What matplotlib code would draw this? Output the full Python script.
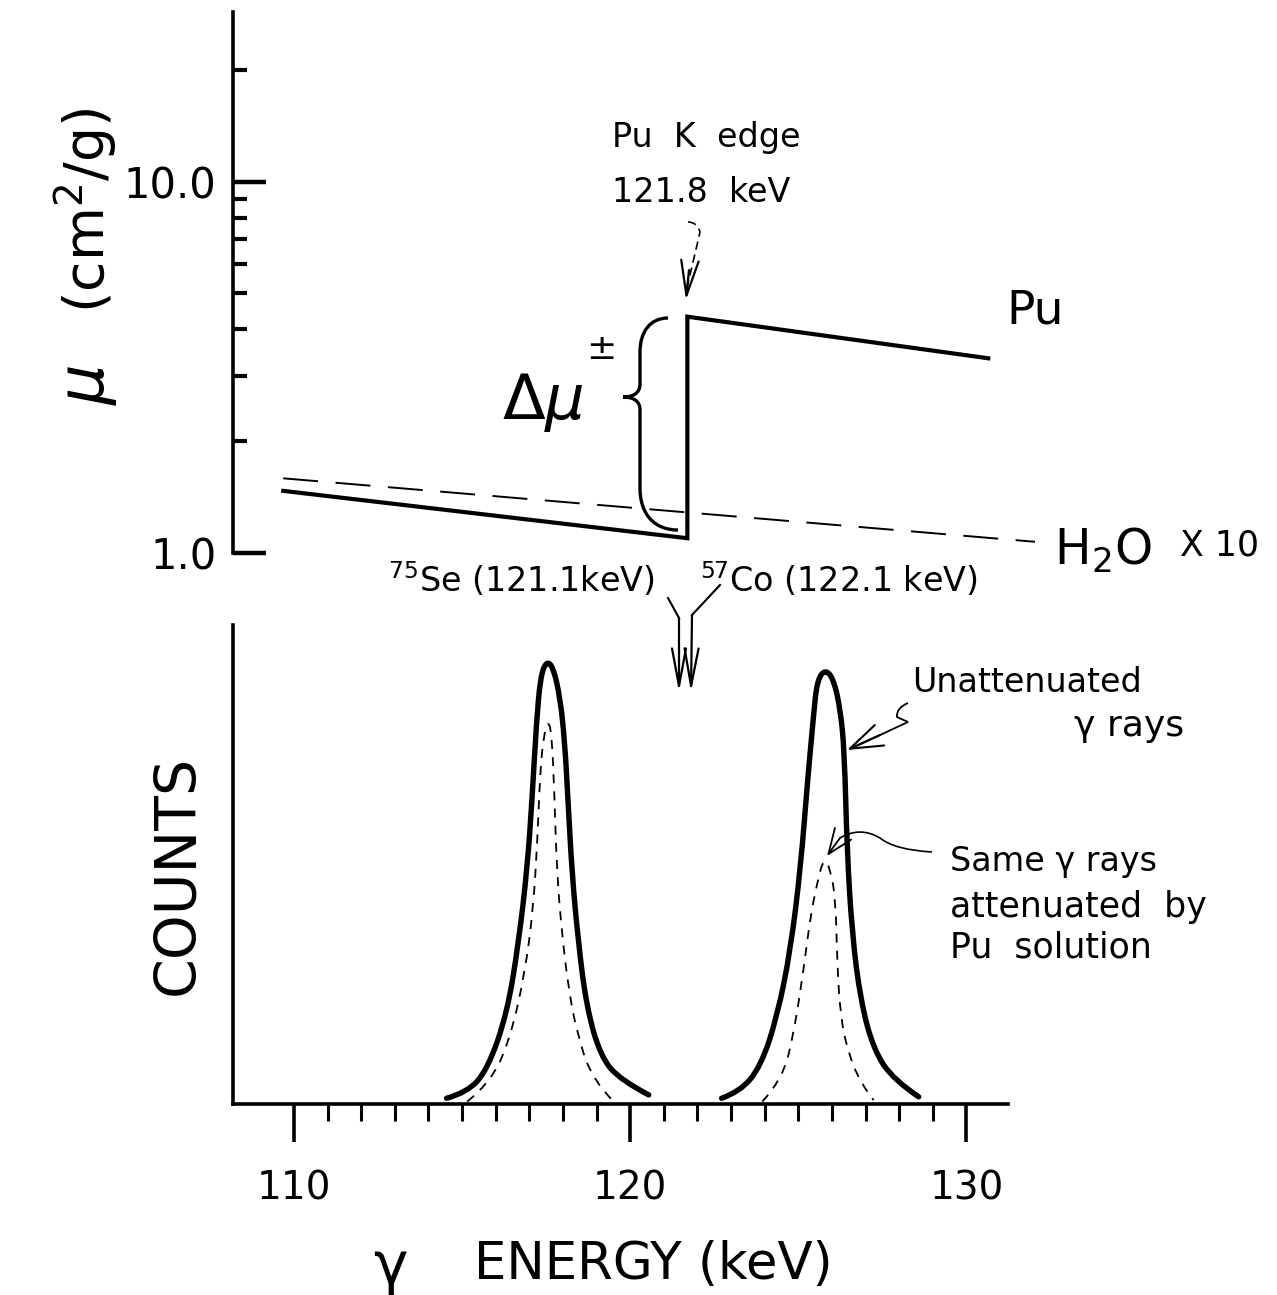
import numpy as np
import matplotlib
matplotlib.use("Agg")
import matplotlib.pyplot as plt
from matplotlib.path import Path
from matplotlib.patches import PathPatch, FancyArrowPatch
from matplotlib.lines import Line2D
from matplotlib.ticker import FixedLocator, NullLocator

# ---------------- data ----------------
# Top panel: mass attenuation coefficient (cm^2/g), log scale
pu_energy = [109.68, 121.7, 121.7, 130.65]
pu_mu = [1.47, 1.096, 4.33, 3.345]
h2o_energy = [109.68, 132.04]
h2o_mu_x10 = [1.589, 1.072]

top_major_ticks = [1.0, 10.0]
top_major_labels = ["1.0", "10.0"]
top_minor_ticks = [2, 3, 4, 5, 6, 7, 8, 9, 20]

# Bottom panel: counts (relative)
se_solid_e = [114.54, 115.15, 115.75, 116.34, 116.69, 116.94, 117.08, 117.21, 117.33,
              117.51, 117.71, 117.91, 118.05, 118.16, 118.27, 118.45, 118.70, 119.12,
              119.71, 120.55]
se_solid_c = [0.012, 0.024, 0.071, 0.189, 0.342, 0.495, 0.635, 0.795, 0.892,
              0.925, 0.912, 0.850, 0.760, 0.621, 0.482, 0.342, 0.203, 0.099,
              0.050, 0.019]
se_dash_e = [115.15, 115.83, 116.42, 116.87, 117.12, 117.24, 117.32, 117.42, 117.57,
             117.67, 117.74, 117.82, 117.97, 118.17, 118.42, 118.87, 119.51]
se_dash_c = [0.005, 0.043, 0.134, 0.273, 0.412, 0.551, 0.690, 0.767, 0.802,
             0.767, 0.656, 0.482, 0.356, 0.238, 0.148, 0.050, 0.005]
co_solid_e = [122.72, 123.27, 123.88, 124.37, 124.77, 125.07, 125.27, 125.45, 125.56,
              125.81, 126.06, 126.25, 126.37, 126.45, 126.60, 126.85, 127.24, 127.84,
              128.58]
co_solid_c = [0.012, 0.026, 0.078, 0.182, 0.322, 0.495, 0.670, 0.809, 0.885,
              0.908, 0.885, 0.823, 0.739, 0.530, 0.356, 0.217, 0.113, 0.050,
              0.015]
co_dash_e = [123.93, 124.52, 124.87, 125.17, 125.36, 125.56, 125.76, 125.96, 126.11,
             126.16, 126.26, 126.46, 126.85, 127.24]
co_dash_c = [0.005, 0.050, 0.148, 0.287, 0.391, 0.461, 0.515, 0.489, 0.426,
             0.287, 0.182, 0.113, 0.043, 0.008]

x_major_ticks = [110, 120, 130]
x_major_labels = ["110", "120", "130"]
x_minor_ticks = [111, 112, 113, 114, 115, 116, 117, 118, 119,
                 121, 122, 123, 124, 125, 126, 127, 128, 129]

# ---------------- layout ----------------
W, H = 1277, 1295
fig = plt.figure(figsize=(W / 100, H / 100), dpi=100)
plt.rcParams['font.family'] = ['DejaVu Sans']


def P(x, y):
    return (x / W, 1 - y / H)


# x calibration: 110 keV at px 294, 33.62 px per keV
def E(px):
    return 110 + (px - 294) / 33.62


def smooth(xs, ys):
    """Quadratic B-spline path through the read points (library Path)."""
    pts = list(zip(xs, ys))
    verts = [pts[0]]
    codes = [Path.MOVETO]
    for i in range(1, len(pts) - 1):
        mid = ((pts[i][0] + pts[i + 1][0]) / 2, (pts[i][1] + pts[i + 1][1]) / 2)
        if i == len(pts) - 2:
            mid = pts[-1]
        verts += [pts[i], mid]
        codes += [Path.CURVE3, Path.CURVE3]
    return Path(verts, codes)


L_PX, R_PX = 233, 1045
ax_top = fig.add_axes([L_PX / W, 1 - 553 / H, (R_PX - L_PX) / W, (553 - 12) / H])
ax_bot = fig.add_axes([L_PX / W, 1 - 1104 / H, (R_PX - L_PX) / W, (1104 - 625) / H])

for ax in (ax_top, ax_bot):
    ax.set_xlim(E(L_PX), E(R_PX))
    ax.patch.set_alpha(0)
    for s in ("top", "right"):
        ax.spines[s].set_visible(False)
    ax.spines["left"].set_linewidth(2.6)
    ax.spines["bottom"].set_linewidth(2.6)

# ---- top panel ----
ax_top.set_yscale("log")
ax_top.set_ylim(1.0, 10 ** ((553 - 12) / 371.3))
ax_top.spines["bottom"].set_visible(False)
ax_top.xaxis.set_major_locator(NullLocator())
ax_top.xaxis.set_minor_locator(NullLocator())
ax_top.yaxis.set_major_locator(FixedLocator(top_major_ticks))
ax_top.set_yticklabels(top_major_labels)
ax_top.yaxis.set_minor_locator(FixedLocator(top_minor_ticks))
ax_top.yaxis.set_minor_formatter(plt.NullFormatter())
ax_top.tick_params(axis="y", which="major", direction="in", length=24, width=3.2,
                   labelsize=30, pad=12)
ax_top.tick_params(axis="y", which="minor", direction="in", length=10, width=3.0)

ax_top.plot(pu_energy, pu_mu, color="black", lw=3.0, solid_joinstyle="miter",
            clip_on=False)
ax_top.plot(h2o_energy, h2o_mu_x10, color="black", lw=1.4, dashes=(18, 9),
            clip_on=False)

# ---- bottom panel ----
ax_bot.set_ylim(0, 1)
ax_bot.spines["bottom"].set_bounds(E(L_PX), E(1008))
ax_bot.yaxis.set_major_locator(NullLocator())
ax_bot.xaxis.set_major_locator(FixedLocator(x_major_ticks))
ax_bot.set_xticklabels(x_major_labels)
ax_bot.xaxis.set_minor_locator(FixedLocator(x_minor_ticks))
ax_bot.tick_params(axis="x", which="major", direction="out", length=27, width=2.6,
                   labelsize=28, pad=20)
ax_bot.tick_params(axis="x", which="minor", direction="out", length=12, width=2.2)

for xs, ys in ((se_solid_e, se_solid_c), (co_solid_e, co_solid_c)):
    ax_bot.add_patch(PathPatch(smooth(xs, ys), fill=False, lw=3.9, capstyle="round",
                               joinstyle="round", transform=ax_bot.transData,
                               clip_on=False))
for xs, ys in ((se_dash_e, se_dash_c), (co_dash_e, co_dash_c)):
    ax_bot.add_patch(PathPatch(smooth(xs, ys), fill=False, lw=1.3, ls=(0, (5, 4.5)),
                               transform=ax_bot.transData, clip_on=False))

# ---------------- labels & annotations ----------------
tf = fig.transFigure

# y label top
fig.text(*P(88, 385), r"$\mu$", fontsize=46, rotation=90, ha="center", va="center",
         transform=tf)
fig.text(*P(86, 210), r"(cm$^2$/g)", fontsize=40, rotation=90, ha="center", va="center",
         transform=tf)
# y label bottom
fig.text(*P(178, 875), "COUNTS", fontsize=41, rotation=90, ha="center", va="center",
         transform=tf)
# x label
fig.text(*P(390, 1268), "γ", fontsize=42, ha="center", va="center", transform=tf)
fig.text(*P(474, 1265), "ENERGY (keV)", fontsize=37, ha="left", va="center",
         transform=tf)

# Pu K edge
fig.text(*P(706, 138), "Pu  K  edge", fontsize=24, ha="center", va="center", transform=tf)
fig.text(*P(701, 192), "121.8  keV", fontsize=24, ha="center", va="center", transform=tf)
curl = Path([P(688, 222), P(697, 222), P(700, 232), P(697, 245), P(686, 292)],
            [Path.MOVETO, Path.CURVE3, Path.CURVE3, Path.LINETO, Path.LINETO])
fig.patches.append(PathPatch(curl, fill=False, lw=1.2, ls=(0, (5, 3)), transform=tf))
fig.patches.append(FancyArrowPatch(
    P(689, 270), P(686, 300), arrowstyle="->,head_length=1.4,head_width=0.35",
    lw=1.6, color="black", transform=tf, mutation_scale=18, shrinkA=0, shrinkB=0))

# Pu label
fig.text(*P(1035, 311), "Pu", fontsize=34, ha="center", va="center", transform=tf)

# Delta mu with brace
fig.text(*P(543, 403), r"$\Delta\mu$", fontsize=45, ha="center", va="center", transform=tf)
fig.text(*P(601, 349), "±", fontsize=26, ha="center", va="center", transform=tf)
brace = Path([P(668, 318), P(650, 318), P(640, 332), P(640, 352),
              P(640, 384),
              P(640, 394), P(632, 397), P(623, 397),
              P(632, 397), P(640, 400), P(640, 410),
              P(640, 488),
              P(640, 515), P(655, 530), P(678, 530)],
             [Path.MOVETO, Path.CURVE4, Path.CURVE4, Path.CURVE4,
              Path.LINETO,
              Path.CURVE4, Path.CURVE4, Path.CURVE4,
              Path.CURVE4, Path.CURVE4, Path.CURVE4,
              Path.LINETO,
              Path.CURVE4, Path.CURVE4, Path.CURVE4])
fig.patches.append(PathPatch(brace, fill=False, lw=2.4, transform=tf))

# H2O x 10
fig.text(*P(1054, 550), r"H$_2$O", fontsize=35, ha="left", va="center", transform=tf)
fig.text(*P(1180, 546), "X 10", fontsize=25, ha="left", va="center", transform=tf)

# source labels
fig.text(*P(388, 580), r"$^{75}$Se (121.1keV)", fontsize=24, ha="left", va="center",
         transform=tf)
fig.text(*P(700, 580), r"$^{57}$Co (122.1 keV)", fontsize=24, ha="left", va="center",
         transform=tf)
for (a, b, c) in [((668, 598), (679, 618), (679, 692)),
                  ((720, 585), (692, 615), (691, 692))]:
    fig.lines.append(Line2D([P(*a)[0], P(*b)[0]], [P(*a)[1], P(*b)[1]],
                            color="black", lw=1.5, transform=tf))
    fig.patches.append(FancyArrowPatch(
        P(*b), P(*c), arrowstyle="->,head_length=1.5,head_width=0.28",
        lw=1.6, color="black", transform=tf, mutation_scale=18, shrinkA=0, shrinkB=0))

# Unattenuated
fig.text(*P(912, 682), "Unattenuated", fontsize=24, ha="left", va="center", transform=tf)
fig.text(*P(1074, 726), "γ rays", fontsize=26, ha="left", va="center", transform=tf)
sq = Path([P(908, 703), P(896, 708), P(897, 717), P(908, 722), P(850, 749)],
          [Path.MOVETO, Path.CURVE3, Path.CURVE3, Path.LINETO, Path.LINETO])
fig.patches.append(PathPatch(sq, fill=False, lw=1.3, transform=tf))
fig.patches.append(FancyArrowPatch(
    P(880, 735), P(847, 750), arrowstyle="->,head_length=1.3,head_width=0.45",
    lw=1.5, color="black", transform=tf, mutation_scale=18, shrinkA=0, shrinkB=0))

# Same gamma rays
fig.text(*P(950, 862), "Same γ rays", fontsize=24, ha="left", va="center", transform=tf)
fig.text(*P(950, 907), "attenuated  by", fontsize=25, ha="left", va="center", transform=tf)
fig.text(*P(950, 947), "Pu  solution", fontsize=25, ha="left", va="center", transform=tf)
cv = Path([P(932, 852), P(895, 850), P(880, 838), P(860, 826), P(840, 838)],
          [Path.MOVETO, Path.CURVE3, Path.CURVE3, Path.CURVE3, Path.CURVE3])
fig.patches.append(PathPatch(cv, fill=False, lw=1.2, transform=tf))
fig.patches.append(FancyArrowPatch(
    P(840, 838), P(827, 856), arrowstyle="->,head_length=1.0,head_width=0.4",
    lw=1.3, color="black", transform=tf, mutation_scale=18, shrinkA=0, shrinkB=0))

fig.savefig("out.png", dpi=100)
